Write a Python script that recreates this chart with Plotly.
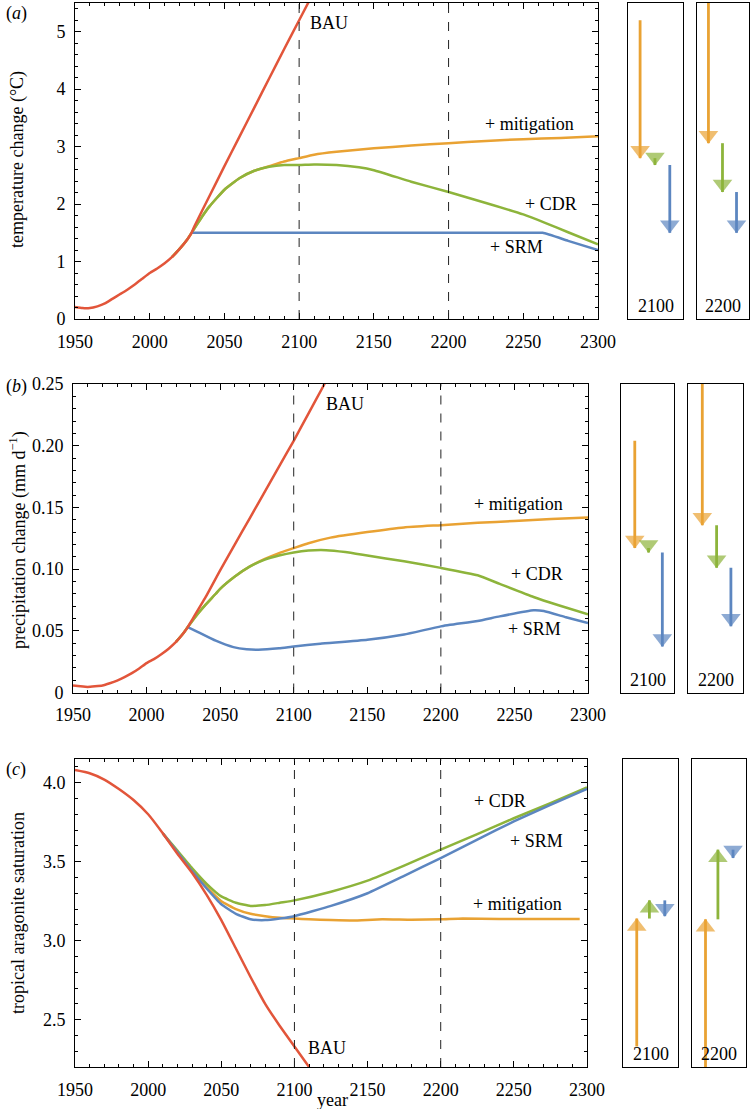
import numpy as np
import plotly.graph_objects as go

# ---------------- data ----------------
# Panel (a): temperature change (°C)
yr_bau_a = [1950, 1955, 1960, 1965, 1970, 1975, 1980, 1985, 1990, 1995, 2000, 2005, 2010, 2015,
            2020, 2025, 2028, 2030, 2040, 2050, 2060, 2070, 2080, 2090, 2100, 2110]
bau_a = [0.21, 0.19, 0.19, 0.22, 0.27, 0.35, 0.43, 0.51, 0.60, 0.70, 0.80, 0.88, 0.97, 1.08,
         1.22, 1.38, 1.50, 1.62, 2.14, 2.66, 3.17, 3.68, 4.19, 4.70, 5.20, 5.70]
yr_mit_a = [2015, 2020, 2025, 2030, 2035, 2040, 2050, 2060, 2070, 2080, 2090, 2100, 2110, 2125,
            2150, 2175, 2200, 2225, 2250, 2275, 2300]
mit_a = [1.08, 1.22, 1.38, 1.58, 1.78, 1.96, 2.25, 2.45, 2.58, 2.66, 2.74, 2.80, 2.86, 2.91,
         2.97, 3.02, 3.06, 3.10, 3.13, 3.15, 3.18]
yr_cdr_a = [2015, 2020, 2025, 2030, 2035, 2040, 2050, 2060, 2070, 2080, 2090, 2100, 2110, 2125,
            2140, 2150, 2175, 2200, 2225, 2250, 2265, 2280, 2300]
cdr_a = [1.08, 1.22, 1.38, 1.58, 1.78, 1.96, 2.25, 2.45, 2.58, 2.65, 2.68, 2.68, 2.69, 2.68,
         2.64, 2.59, 2.39, 2.21, 2.02, 1.82, 1.67, 1.51, 1.30]
yr_srm_a = [2028, 2050, 2100, 2150, 2200, 2250, 2263, 2280, 2300]
srm_a = [1.50, 1.50, 1.50, 1.50, 1.50, 1.50, 1.50, 1.36, 1.20]

# Panel (b): precipitation change (mm/day)
yr_bau_b = [1950, 1955, 1960, 1965, 1970, 1975, 1980, 1985, 1990, 1995, 2000, 2005, 2010, 2015,
            2020, 2025, 2028, 2030, 2040, 2050, 2060, 2070, 2080, 2090, 2100, 2110, 2120, 2123]
bau_b = [0.0057, 0.0050, 0.0045, 0.0050, 0.0057, 0.0075, 0.0097, 0.0125, 0.0157, 0.0195,
         0.0238, 0.0270, 0.0310, 0.0355, 0.0410, 0.0480, 0.0530, 0.0570, 0.0770, 0.0990,
         0.1200, 0.1410, 0.1620, 0.1830, 0.2040, 0.2260, 0.2480, 0.2550]
yr_mit_b = [2020, 2025, 2028, 2035, 2040, 2047, 2050, 2060, 2070, 2080, 2090, 2100, 2110, 2125,
            2150, 2175, 2200, 2225, 2250, 2275, 2300]
mit_b = [0.0410, 0.0480, 0.0530, 0.0640, 0.0710, 0.0800, 0.0840, 0.0940, 0.1020, 0.1080,
         0.1130, 0.1170, 0.1210, 0.1255, 0.1300, 0.1338, 0.1356, 0.1375, 0.1390, 0.1405, 0.1418]
yr_cdr_b = [2020, 2025, 2028, 2035, 2040, 2047, 2050, 2060, 2070, 2080, 2090, 2100, 2110, 2122,
            2135, 2150, 2175, 2200, 2225, 2240, 2263, 2280, 2300]
cdr_b = [0.0410, 0.0480, 0.0530, 0.0640, 0.0710, 0.0800, 0.0840, 0.0940, 0.1020, 0.1075,
         0.1110, 0.1135, 0.1150, 0.1153, 0.1138, 0.1110, 0.1063, 0.1010, 0.0950, 0.0880,
         0.0774, 0.0707, 0.0633]
yr_srm_b = [2028, 2035, 2047, 2059, 2068, 2076, 2090, 2100, 2118, 2150, 2175, 2200, 2225, 2240,
            2263, 2270, 2285, 2300]
srm_b = [0.0530, 0.0490, 0.0420, 0.0368, 0.0350, 0.0346, 0.0358, 0.0373, 0.0395, 0.0427,
         0.0470, 0.0536, 0.0580, 0.0617, 0.0666, 0.0660, 0.0610, 0.0563]

# Panel (c): tropical aragonite saturation
yr_bau_c = [1950, 1960, 1970, 1980, 1990, 2000, 2010, 2020, 2030, 2040, 2050, 2060, 2070, 2080,
            2090, 2100, 2110]
bau_c = [4.08, 4.06, 4.02, 3.96, 3.89, 3.80, 3.68, 3.55, 3.43, 3.29, 3.13, 2.95, 2.77, 2.60,
         2.46, 2.33, 2.20]
yr_mit_c = [2010, 2020, 2030, 2040, 2050, 2060, 2070, 2080, 2090, 2100, 2110, 2125, 2140, 2160,
            2180, 2200, 2215, 2240, 2260, 2280, 2295]
mit_c = [3.68, 3.56, 3.45, 3.34, 3.25, 3.20, 3.17, 3.155, 3.145, 3.14, 3.135, 3.13, 3.127,
         3.135, 3.132, 3.135, 3.14, 3.137, 3.137, 3.137, 3.137]
yr_cdr_c = [2010, 2020, 2030, 2040, 2050, 2060, 2070, 2080, 2090, 2100, 2125, 2150, 2175, 2200,
            2225, 2250, 2275, 2300]
cdr_c = [3.68, 3.57, 3.46, 3.36, 3.28, 3.24, 3.22, 3.225, 3.24, 3.255, 3.31, 3.38, 3.475, 3.576,
         3.675, 3.775, 3.87, 3.97]
yr_srm_c = [2010, 2020, 2030, 2040, 2050, 2060, 2070, 2080, 2090, 2100, 2125, 2150, 2175, 2200,
            2225, 2250, 2275, 2300]
srm_c = [3.68, 3.56, 3.44, 3.33, 3.23, 3.17, 3.135, 3.13, 3.14, 3.155, 3.22, 3.30, 3.41, 3.523,
         3.64, 3.755, 3.86, 3.96]

snapshot_years = [2100, 2200]
series_labels = ["BAU", "+ mitigation", "+ CDR", "+ SRM"]
y_titles = ["temperature change (°C)", "precipitation change (mm d<sup>−1</sup>)",
            "tropical aragonite saturation"]
panel_letters = ["a", "b", "c"]
x_ticks = [1950, 2000, 2050, 2100, 2150, 2200, 2250, 2300]
y_ticks_a = [0, 1, 2, 3, 4, 5]
y_ticks_b = [0, 0.05, 0.10, 0.15, 0.20, 0.25]
y_ticktext_b = ["0", "0.05", "0.10", "0.15", "0.20", "0.25"]
y_ticks_c = [2.5, 3.0, 3.5, 4.0]

# ---------------- styling ----------------
W, H = 751, 1109
FONT = "'Liberation Serif', 'Times New Roman', 'DejaVu Serif', serif"
FS = 18
C_BAU, C_MIT, C_CDR, C_SRM = "#E2553A", "#E9A233", "#8DB43B", "#5C86C0"
LW = 2.5


def px_x(p):
    return p / W


def px_y(p):
    return 1 - p / H


def tf(size=FS):
    return dict(family=FONT, size=size, color="black")


panels = [
    dict(main=(75, 598), boxes=[(628, 683), (697, 749)], yspan=(3, 319), yrange=[0, 5.5],
         data=[(yr_bau_a, bau_a), (yr_mit_a, mit_a), (yr_cdr_a, cdr_a), (yr_srm_a, srm_a)],
         yticks=dict(tickvals=y_ticks_a, ticktext=[str(v) for v in y_ticks_a]), ydminor=0.2,
         labels=[(329, 23), (529.5, 124), (550.5, 204), (516, 247)],
         ytitle_y=160, letter_y=13, arrow_x=[0.22, 0.49, 0.76]),
    dict(main=(73, 588), boxes=[(621, 674), (688, 743)], yspan=(384, 692.5), yrange=[0, 0.25],
         data=[(yr_bau_b, bau_b), (yr_mit_b, mit_b), (yr_cdr_b, cdr_b), (yr_srm_b, srm_b)],
         yticks=dict(tickvals=y_ticks_b, ticktext=y_ticktext_b), ydminor=0.01,
         labels=[(344.5, 404), (518.5, 504), (536.5, 574), (534.5, 629)],
         ytitle_y=540, letter_y=386, arrow_x=[0.26, 0.52, 0.78]),
    dict(main=(75, 587), boxes=[(623, 678), (692, 746)], yspan=(759, 1067), yrange=[2.2, 4.15],
         data=[(yr_bau_c, bau_c), (yr_mit_c, mit_c), (yr_cdr_c, cdr_c), (yr_srm_c, srm_c)],
         yticks=dict(tickvals=y_ticks_c, ticktext=[f"{v:.1f}" for v in y_ticks_c]), ydminor=0.1,
         labels=[(327, 1048), (517.5, 904), (500, 801), (536, 841)],
         ytitle_y=913, letter_y=769, arrow_x=[0.25, 0.48, 0.76]),
]

colors = [C_BAU, C_MIT, C_CDR, C_SRM]
fig = go.Figure()
layout = dict(template="none", width=W, height=H, margin=dict(l=0, r=0, t=0, b=0, pad=0),
              paper_bgcolor="white", plot_bgcolor="white", showlegend=False,
              font=tf())
annotations = []
shapes = []

axis_idx = 0
for pi, P in enumerate(panels):
    m_idx = axis_idx + 1
    b_idx = [axis_idx + 2, axis_idx + 3]
    axis_idx += 3
    ydom = [px_y(P["yspan"][1]), px_y(P["yspan"][0])]

    def nm(i, a):
        return a if i == 1 else f"{a}{i}"

    # main axes
    layout[nm(m_idx, "xaxis")] = dict(
        domain=[px_x(P["main"][0]), px_x(P["main"][1])], range=[1950, 2300],
        anchor=nm(m_idx, "y"), tickvals=x_ticks, ticks="inside", ticklen=6, tickwidth=1,
        tickcolor="black", showline=True, linecolor="black", linewidth=1, mirror="ticks",
        showgrid=False, zeroline=False, ticklabelstandoff=6, tickfont=tf(), automargin=False,
        minor=dict(dtick=10, ticks="inside", ticklen=3, tickcolor="black", showgrid=False))
    layout[nm(m_idx, "yaxis")] = dict(
        domain=ydom, range=P["yrange"], anchor=nm(m_idx, "x"), **P["yticks"],
        ticks="inside", ticklen=6, tickwidth=1, tickcolor="black", showline=True,
        linecolor="black", linewidth=1, mirror="ticks", showgrid=False, zeroline=False,
        ticklabelstandoff=5, tickfont=tf(), automargin=False,
        minor=dict(dtick=P["ydminor"], tick0=0, ticks="inside", ticklen=3,
                   tickcolor="black", showgrid=False))

    # curves (mitigation, CDR, SRM, BAU order for overlap)
    for si in [1, 2, 3, 0]:
        xs, ys = P["data"][si]
        fig.add_trace(go.Scatter(x=xs, y=ys, mode="lines",
                                 line=dict(color=colors[si], width=LW, shape="spline",
                                           smoothing=0.4),
                                 xaxis=nm(m_idx, "x"), yaxis=nm(m_idx, "y"), hoverinfo="skip"))

    # dashed snapshot lines
    for yr in snapshot_years:
        shapes.append(dict(type="line", xref=nm(m_idx, "x"), yref=f"{nm(m_idx, 'y')} domain",
                           x0=yr, x1=yr, y0=0, y1=1, line=dict(color="#222", width=1, dash="dash")))

    # curve labels
    for si, (lx, ly) in enumerate(P["labels"]):
        annotations.append(dict(text=series_labels[si], x=px_x(lx), y=px_y(ly), xref="paper",
                                yref="paper", showarrow=False, xanchor="center", yanchor="middle",
                                font=tf()))

    # y-axis title and panel letter
    annotations.append(dict(text=y_titles[pi], x=px_x(18), y=px_y(P["ytitle_y"]), xref="paper",
                            yref="paper", showarrow=False, textangle=-90, xanchor="center",
                            yanchor="middle", font=tf()))
    annotations.append(dict(text=f"(<i>{panel_letters[pi]}</i>)", x=px_x(4), y=px_y(P["letter_y"]),
                            xref="paper", yref="paper", showarrow=False, xanchor="left",
                            yanchor="middle", font=tf()))

    # side boxes with arrows
    lo, hi = P["yrange"]
    for k, yr in enumerate(snapshot_years):
        bi = b_idx[k]
        layout[nm(bi, "xaxis")] = dict(domain=[px_x(P["boxes"][k][0]), px_x(P["boxes"][k][1])],
                                       range=[0, 1], anchor=nm(bi, "y"), showline=True,
                                       linecolor="black", linewidth=1, mirror=True,
                                       showticklabels=False, ticks="", showgrid=False,
                                       zeroline=False, automargin=False)
        layout[nm(bi, "yaxis")] = dict(domain=ydom, range=P["yrange"], anchor=nm(bi, "x"),
                                       showline=True, linecolor="black", linewidth=1,
                                       mirror=True, showticklabels=False, ticks="",
                                       showgrid=False, zeroline=False, automargin=False)
        vals = [float(np.clip(np.interp(yr, xs, ys), lo, hi)) for xs, ys in P["data"]]
        for j in range(3):
            xa = P["arrow_x"][j]
            fig.add_trace(go.Scatter(
                x=[xa, xa], y=[vals[j], vals[j + 1]], mode="lines+markers",
                line=dict(color=colors[j + 1], width=2.8, backoff=[0, 10]),
                marker=dict(symbol=["circle", "triangle-up"], size=[0, 17], angleref="previous",
                            standoff=[0, 8], color=colors[j + 1], line=dict(width=0)),
                xaxis=nm(bi, "x"), yaxis=nm(bi, "y"), hoverinfo="skip", cliponaxis=False))
        annotations.append(dict(text=str(yr), x=0.5, y=0, xref=f"{nm(bi, 'x')} domain",
                                yref=f"{nm(bi, 'y')} domain", showarrow=False, xanchor="center",
                                yanchor="bottom", yshift=1, font=tf()))

# x-axis title for bottom panel
annotations.append(dict(text="year", x=px_x(332), y=px_y(1100), xref="paper", yref="paper",
                        showarrow=False, xanchor="center", yanchor="middle", font=tf()))

layout["annotations"] = annotations
layout["shapes"] = shapes
fig.update_layout(**layout)
fig.write_html("out.html", config={"displayModeBar": False},
               post_script="document.body.style.margin='0';document.body.style.padding='0';")
